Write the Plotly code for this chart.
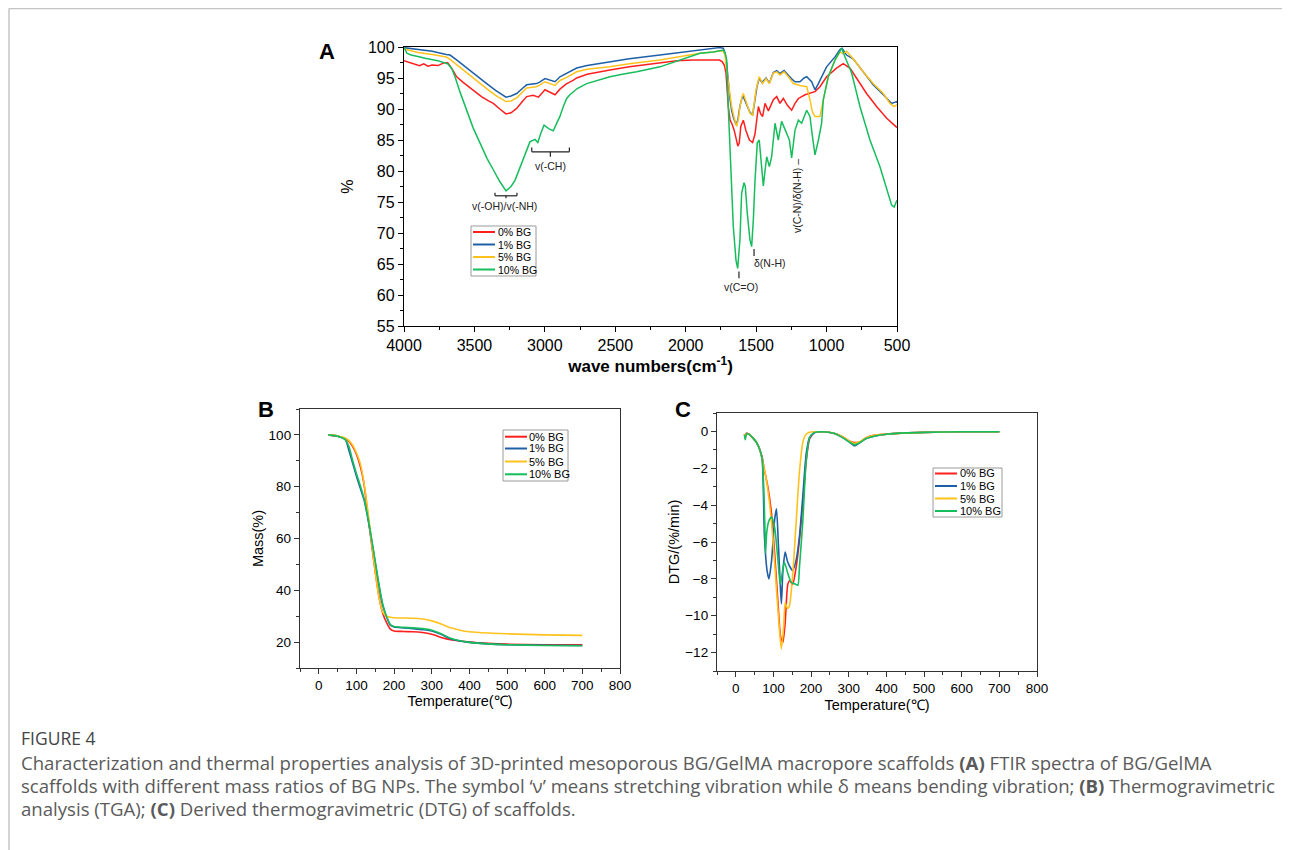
import plotly.graph_objects as go

# --------------------------------------------------------------------------------------
# data

names = ["0% BG", "1% BG", "5% BG", "10% BG"]
colors = ["#ff1f1f", "#1f5fa6", "#ffc21c", "#16bd5c"]

# (A) FTIR spectra: wave number (cm-1) / transmittance (%)
ftir_wn_0 = [4000, 3960, 3920, 3890, 3860, 3830, 3800, 3760, 3720, 3690, 3660, 3626, 3580,
             3540, 3508, 3450, 3400, 3366, 3320, 3276, 3240, 3200, 3160, 3129, 3083, 3046,
             2999, 2960, 2928, 2893, 2850, 2800, 2774, 2700, 2600, 2538, 2400, 2301, 2200,
             2064, 1950, 1875, 1800, 1760, 1740, 1725, 1714, 1698, 1685, 1670, 1655, 1643,
             1630, 1620, 1609, 1591, 1572, 1548, 1525, 1508, 1484, 1468, 1454, 1437, 1413,
             1378, 1354, 1331, 1307, 1278, 1248, 1224, 1200, 1153, 1118, 1082, 1047, 1000,
             929, 882, 834, 787, 716, 645, 573, 500]
ftir_pct_0 = [97.8, 97.5, 97.2, 97.0, 97.3, 96.9, 97.1, 97.0, 97.4, 97.5, 96.5, 95.2, 94.3,
              93.6, 93.1, 92.0, 91.3, 90.9, 90.0, 89.2, 89.4, 90.1, 91.2, 92.0, 92.2, 91.9,
              93.1, 92.6, 92.3, 93.2, 94.0, 94.6, 95.0, 95.6, 96.1, 96.3, 96.8, 97.1, 97.5,
              97.8, 97.9, 97.9, 97.8, 97.9, 97.6, 97.0, 95.8, 90.4, 88.2, 87.5, 86.5, 85.0,
              84.0, 84.5, 87.2, 88.2, 86.5, 85.0, 84.6, 86.0, 90.4, 89.2, 88.8, 90.9, 89.7,
              91.5, 92.0, 90.9, 91.7, 90.6, 89.8, 90.9, 91.7, 92.3, 92.5, 92.8, 93.6, 95.2,
              96.6, 97.3, 96.6, 94.9, 92.5, 90.4, 88.5, 87.0]

ftir_wn_1 = [4000, 3900, 3800, 3700, 3673, 3620, 3555, 3480, 3413, 3350, 3276, 3240, 3200,
             3160, 3129, 3060, 3040, 2999, 2960, 2928, 2893, 2845, 2774, 2700, 2538, 2400,
             2183, 2000, 1899, 1800, 1760, 1733, 1720, 1710, 1698, 1685, 1674, 1660, 1643,
             1630, 1615, 1600, 1591, 1570, 1545, 1525, 1510, 1495, 1478, 1460, 1445, 1430,
             1406, 1390, 1378, 1354, 1331, 1302, 1271, 1250, 1224, 1189, 1160, 1141, 1106,
             1082, 1060, 1047, 1000, 940, 905, 890, 858, 811, 740, 669, 597, 538, 502, 500]
ftir_pct_1 = [99.9, 99.6, 99.3, 98.8, 98.7, 97.8, 96.6, 95.3, 94.1, 93.0, 91.9, 92.1, 92.5,
              93.3, 93.9, 94.1, 94.3, 94.9, 94.6, 94.4, 95.2, 95.8, 96.6, 97.0, 97.6, 98.1,
              98.7, 99.2, 99.5, 99.7, 99.9, 99.8, 99.0, 97.5, 94.1, 91.5, 89.8, 88.5, 87.5,
              88.2, 90.5, 91.8, 92.0, 90.8, 89.5, 89.0, 91.0, 93.5, 95.0, 94.3, 94.6, 95.0,
              94.2, 95.3, 95.9, 96.2, 95.7, 96.2, 95.4, 94.9, 94.4, 94.4, 95.0, 95.2, 94.4,
              93.1, 94.0, 94.6, 96.8, 98.4, 99.6, 99.8, 98.7, 98.1, 96.0, 93.9, 92.3, 90.9,
              91.2, 91.0]

ftir_wn_5 = [4000, 3900, 3800, 3700, 3673, 3620, 3555, 3480, 3413, 3350, 3276, 3240, 3200,
             3160, 3129, 3060, 3040, 2999, 2960, 2928, 2893, 2845, 2774, 2700, 2538, 2400,
             2183, 2000, 1899, 1800, 1760, 1733, 1720, 1714, 1698, 1685, 1674, 1655, 1638,
             1625, 1615, 1600, 1591, 1567, 1544, 1525, 1501, 1478, 1454, 1430, 1406, 1378,
             1354, 1331, 1302, 1271, 1236, 1189, 1141, 1118, 1100, 1082, 1047, 1023, 988,
             940, 905, 882, 858, 811, 740, 669, 597, 550, 520, 500]
ftir_pct_5 = [99.7, 99.1, 98.8, 98.4, 98.0, 97.0, 95.8, 94.5, 93.3, 92.2, 91.2, 91.3, 91.8,
              92.8, 93.4, 93.6, 93.8, 94.4, 94.0, 93.8, 94.6, 95.1, 96.0, 96.4, 96.8, 97.3,
              97.9, 98.6, 99.0, 99.2, 99.4, 99.3, 98.6, 97.1, 94.1, 92.0, 90.4, 88.5, 87.2,
              88.5, 90.4, 92.0, 92.5, 90.9, 89.3, 89.0, 93.1, 95.2, 94.1, 94.9, 94.1, 95.8,
              96.0, 95.5, 96.0, 95.2, 94.1, 93.8, 93.6, 91.5, 89.5, 88.8, 88.8, 91.5, 95.2,
              97.9, 99.2, 98.9, 99.3, 98.1, 96.0, 94.1, 92.5, 90.9, 90.4, 90.7]

ftir_wn_10 = [4000, 3980, 3950, 3920, 3886, 3850, 3800, 3760, 3720, 3690, 3660, 3638, 3600,
              3555, 3510, 3460, 3410, 3366, 3320, 3276, 3240, 3212, 3170, 3141, 3106, 3070,
              3050, 3030, 3006, 2970, 2940, 2910, 2893, 2869, 2845, 2822, 2770, 2703, 2600,
              2538, 2450, 2348, 2183, 2041, 1899, 1804, 1760, 1733, 1720, 1709, 1698, 1686,
              1674, 1662, 1643, 1631, 1615, 1603, 1586, 1577, 1563, 1544, 1532, 1520, 1508,
              1492, 1478, 1468, 1449, 1437, 1425, 1406, 1390, 1366, 1343, 1319, 1288, 1264,
              1248, 1224, 1200, 1177, 1141, 1118, 1100, 1082, 1058, 1035, 1023, 988, 940,
              905, 893, 869, 822, 763, 692, 621, 573, 538, 520, 500]
ftir_pct_10 = [100.0, 99.0, 98.7, 98.6, 98.4, 98.2, 98.0, 97.8, 97.5, 97.3, 96.5, 95.2, 92.6,
               89.8, 87.0, 84.5, 82.0, 80.2, 78.3, 76.8, 77.5, 78.5, 81.0, 82.9, 84.7, 85.1,
               84.6, 86.0, 87.4, 86.8, 86.5, 88.0, 88.8, 90.4, 91.7, 92.3, 93.3, 94.1, 94.8,
               95.2, 95.6, 96.0, 96.8, 97.9, 99.0, 99.2, 99.4, 99.5, 99.0, 97.9, 90.4, 83.9,
               78.5, 71.0, 65.6, 64.3, 68.9, 76.4, 78.1, 77.5, 73.2, 68.9, 67.8, 72.1, 78.5,
               84.5, 85.0, 82.0, 77.6, 80.0, 82.3, 80.7, 82.3, 87.7, 85.0, 88.0, 86.3, 85.0,
               82.1, 86.6, 88.2, 87.7, 89.8, 88.8, 85.5, 82.6, 85.0, 87.7, 91.5, 95.2, 97.9,
               99.5, 99.8, 98.4, 95.8, 90.4, 85.0, 80.7, 76.9, 74.5, 74.2, 75.3]

# (B) TGA: temperature (C) / mass (%)
tga_temp = [25, 50, 70, 80, 90, 100, 110, 120, 130, 140, 150, 160, 170, 180, 190, 200, 225,
            250, 275, 300, 325, 350, 375, 400, 450, 500, 600, 700]
tga_mass_0 = [100, 99.5, 98.6, 97.5, 95.5, 92.5, 88.0, 81.0, 69.5, 58.0, 47.0, 37.5, 31.0,
              27.5, 25.0, 24.3, 24.1, 24.0, 23.7, 23.0, 21.8, 20.9, 20.4, 20.0, 19.5, 19.2,
              19.0, 19.0]
tga_mass_1 = [100, 99.5, 98.3, 94.0, 89.0, 84.0, 79.5, 75.0, 68.0, 59.5, 50.5, 41.5, 34.0,
              29.8, 26.5, 25.8, 25.5, 25.2, 24.8, 24.3, 23.0, 21.3, 20.4, 19.9, 19.3, 19.0,
              18.8, 18.7]
tga_mass_5 = [100, 99.6, 98.8, 97.8, 96.0, 93.0, 89.0, 81.5, 71.0, 59.0, 47.0, 37.0, 31.5,
              30.0, 29.6, 29.4, 29.3, 29.2, 28.9, 28.2, 27.0, 25.5, 24.6, 24.0, 23.5, 23.2,
              22.8, 22.6]
tga_mass_10 = [100, 99.5, 98.2, 95.5, 90.0, 85.0, 80.5, 75.5, 68.5, 60.0, 51.0, 42.0, 34.5,
               29.8, 26.8, 26.0, 25.7, 25.5, 25.2, 24.6, 23.2, 21.5, 20.5, 19.9, 19.3, 19.0,
               18.7, 18.6]

# (C) DTG: temperature (C) / rate (%/min)
dtg_temp_0 = [23, 25, 28, 35, 45, 55, 63, 70, 76, 85, 94, 103, 112, 119, 125, 131, 138, 143,
              151, 160, 169, 178, 187, 196, 209, 230, 260, 285, 300, 315, 330, 345, 370, 400,
              450, 500, 600, 700]
dtg_rate_0 = [-0.15, -0.35, -0.1, -0.15, -0.35, -0.6, -0.95, -1.4, -2.1, -3.0, -4.3, -6.6,
              -9.3, -11.15, -11.45, -10.4, -8.3, -8.1, -8.3, -7.4, -5.9, -3.9, -1.6, -0.4,
              -0.05, -0.02, -0.1, -0.3, -0.5, -0.6, -0.58, -0.35, -0.2, -0.15, -0.08, -0.05,
              -0.02, -0.02]
dtg_temp_1 = [23, 25, 28, 35, 45, 55, 63, 70, 76, 83, 88, 95, 103, 108, 113, 118, 121, 125,
              131, 138, 151, 160, 169, 178, 187, 196, 209, 230, 260, 285, 300, 315, 330, 345,
              370, 400, 450, 500, 600, 700]
dtg_rate_1 = [-0.15, -0.3, -0.1, -0.15, -0.35, -0.6, -0.95, -1.5, -5.7, -7.55, -8.0, -7.0,
              -4.8, -4.2, -6.1, -8.3, -9.35, -7.6, -6.55, -7.1, -7.55, -7.0, -5.7, -3.5, -1.2,
              -0.33, -0.07, -0.02, -0.1, -0.35, -0.55, -0.78, -0.6, -0.4, -0.25, -0.15, -0.08,
              -0.05, -0.02, -0.02]
dtg_temp_5 = [23, 25, 28, 35, 45, 55, 63, 70, 80, 89, 98, 107, 116, 121, 127, 131, 137, 142,
              151, 160, 169, 178, 185, 195, 210, 230, 260, 285, 300, 315, 330, 345, 370, 400,
              450, 500, 600, 700]
dtg_rate_5 = [-0.15, -0.3, -0.1, -0.15, -0.35, -0.6, -0.95, -1.5, -2.5, -3.8, -5.7, -8.3,
              -10.8, -11.8, -10.6, -9.3, -9.6, -9.5, -7.8, -5.0, -2.2, -0.6, -0.2, -0.05,
              -0.02, -0.02, -0.1, -0.3, -0.5, -0.65, -0.55, -0.35, -0.2, -0.15, -0.08, -0.05,
              -0.02, -0.02]
dtg_temp_10 = [23, 25, 28, 35, 45, 55, 63, 70, 74, 77, 79, 82, 88, 95, 103, 112, 118, 124,
               129, 138, 147, 160, 165, 169, 178, 187, 196, 209, 230, 260, 285, 300, 315, 330,
               345, 370, 400, 450, 500, 600, 700]
dtg_rate_10 = [-0.2, -0.45, -0.15, -0.15, -0.35, -0.6, -0.95, -1.5, -3.0, -5.0, -6.6, -5.5,
               -4.85, -4.65, -5.2, -7.0, -8.3, -7.6, -7.1, -7.7, -8.18, -8.3, -8.35, -7.37,
               -4.84, -1.59, -0.33, -0.05, -0.02, -0.1, -0.35, -0.55, -0.72, -0.6, -0.4,
               -0.25, -0.15, -0.08, -0.05, -0.02, -0.02]

# peak labels in panel A: (text, wave number, %)
ftir_labels = [
    ("v(-OH)/v(-NH)", 3283, 74.4),
    ("v(-CH)", 2961, 80.8),
    ("v(C=O)", 1610, 61.3),
    ("δ(N-H)", 1404, 65.1),
]

caption_title = "FIGURE 4"
caption_lines = [
    "Characterization and thermal properties analysis of 3D-printed mesoporous BG/GelMA "
    "macropore scaffolds <b>(A)</b> FTIR spectra of BG/GelMA",
    "scaffolds with different mass ratios of BG NPs. The symbol ‘ν’ means stretching "
    "vibration while δ means bending vibration; <b>(B)</b> Thermogravimetric",
    "analysis (TGA); <b>(C)</b> Derived thermogravimetric (DTG) of scaffolds.",
]

# --------------------------------------------------------------------------------------

W, H = 1290, 850
OFF = 8  # the page body puts the figure 8px in from the top left corner


def px(x):
    return (x - OFF) / W


def py(y):
    return 1 - (y - OFF) / H


FONT = "Liberation Sans, Arial, sans-serif"

fig = go.Figure()

ftir = [(ftir_wn_0, ftir_pct_0), (ftir_wn_1, ftir_pct_1),
        (ftir_wn_5, ftir_pct_5), (ftir_wn_10, ftir_pct_10)]
tga = [tga_mass_0, tga_mass_1, tga_mass_5, tga_mass_10]
dtg = [(dtg_temp_0, dtg_rate_0), (dtg_temp_1, dtg_rate_1),
       (dtg_temp_5, dtg_rate_5), (dtg_temp_10, dtg_rate_10)]

for i, name in enumerate(names):
    fig.add_trace(go.Scatter(x=ftir[i][0], y=ftir[i][1], name=name, mode="lines",
                             line=dict(color=colors[i], width=1.5),
                             xaxis="x", yaxis="y", showlegend=False))
for i, name in enumerate(names):
    fig.add_trace(go.Scatter(x=tga_temp, y=tga[i], name=name, mode="lines",
                             line=dict(color=colors[i], width=1.6, shape="spline", smoothing=0.6),
                             xaxis="x2", yaxis="y2", showlegend=False))
for i, name in enumerate(names):
    fig.add_trace(go.Scatter(x=dtg[i][0], y=dtg[i][1], name=name, mode="lines",
                             line=dict(color=colors[i], width=1.6, shape="spline", smoothing=0.6),
                             xaxis="x3", yaxis="y3", showlegend=False))


def axis(domain, rng, dtick, minor, size, anchor, lc="black", **kw):
    return dict(domain=domain, range=rng, dtick=dtick, anchor=anchor, automargin=False,
                showline=True, linecolor=lc, linewidth=1.3, mirror=True,
                ticks="outside", ticklen=5, tickwidth=1, tickcolor=lc,
                minor=dict(ticks="outside", ticklen=3, tickwidth=1, tickcolor=lc, dtick=minor),
                showgrid=False, zeroline=False,
                tickfont=dict(family=FONT, size=size, color="black"), **kw)


fig.update_layout(
    width=W, height=H, margin=dict(l=0, r=0, t=0, b=0, pad=0), autosize=False,
    paper_bgcolor="white", plot_bgcolor="white",
    font=dict(family=FONT, color="black"),
    xaxis=axis([px(404), px(897)], [4000, 500], 500, 250, 16, "y",
               title=dict(text="wave numbers(cm<sup>-1</sup>)", standoff=4,
                          font=dict(family=FONT, size=17, color="black", weight="bold"))),
    yaxis=axis([py(326), py(47)], [55, 100], 5, 2.5, 16, "x",
               title=dict(text="%", standoff=10, font=dict(family=FONT, size=16))),
    xaxis2=axis([px(300), px(620)], [-50, 800], 100, 50, 13.5, "y2", lc="#333",
                title=dict(text="Temperature(℃)", standoff=2, font=dict(family=FONT, size=14.5))),
    yaxis2=axis([py(668), py(409)], [10, 110], 20, 10, 13.5, "x2", lc="#333",
                title=dict(text="Mass(%)", standoff=1, font=dict(family=FONT, size=14.5))),
    xaxis3=axis([px(717), px(1037)], [-50, 800], 100, 50, 13.5, "y3", lc="#333",
                title=dict(text="Temperature(℃)", standoff=4, font=dict(family=FONT, size=14.5))),
    yaxis3=axis([py(671), py(413)], [-13, 1], 2, 1, 13.5, "x3", lc="#333",
                title=dict(text="DTG/(%/min)", standoff=2, font=dict(family=FONT, size=14.5))),
)

shapes = []
ann = []


def note(text, x, y, size, color="black", family=FONT, xanchor="center", **kw):
    ann.append(dict(text=text, x=px(x), y=py(y), xref="paper", yref="paper",
                    xanchor=xanchor, yanchor="middle", showarrow=False,
                    font=dict(family=family, size=size, color=color), **kw))


# page frame
shapes.append(dict(type="line", xref="paper", yref="paper", x0=px(9), x1=1, y0=py(8.5), y1=py(8.5),
                   line=dict(color="#c4c4c4", width=1.5)))
shapes.append(dict(type="line", xref="paper", yref="paper", x0=px(9), x1=px(9), y0=0, y1=py(8.5),
                   line=dict(color="#c4c4c4", width=1.5)))

# panel letters
for letter, x, y in [("A", 327, 52), ("B", 266, 410), ("C", 683, 410)]:
    note(f"<b>{letter}</b>", x, y, 22)

# peak labels in A
for text, wn, val in ftir_labels:
    ann.append(dict(text=text, x=wn, y=val, xref="x", yref="y", showarrow=False,
                    xanchor="center", yanchor="middle",
                    font=dict(family=FONT, size=10.5, color="#222")))
ann.append(dict(text="v(C-N)/δ(N-H) –", x=1208, y=76.0, xref="x", yref="y", showarrow=False,
                xanchor="center", yanchor="middle", textangle=-90,
                font=dict(family=FONT, size=10.5, color="#222")))


def seg(x0, y0, x1, y1):
    shapes.append(dict(type="line", xref="x", yref="y", x0=x0, y0=y0, x1=x1, y1=y1,
                       line=dict(color="#222", width=1.2)))


# brackets / ticks pointing at peaks
seg(3354, 76.0, 3198, 76.0); seg(3354, 76.0, 3354, 76.5); seg(3198, 76.0, 3198, 76.5)
seg(3276, 76.0, 3276, 75.6)
seg(3093, 83.1, 2826, 83.1); seg(3093, 83.1, 3093, 83.8); seg(2826, 83.1, 2826, 83.8)
seg(2961, 83.1, 2961, 82.3)
seg(1622, 63.8, 1622, 62.7)
seg(1515, 67.4, 1515, 66.3)


# legends drawn as small boxes
def legend(box, rows, sw, tx, size):
    x0, y0, x1, y1 = box
    shapes.append(dict(type="rect", xref="paper", yref="paper", x0=px(x0), x1=px(x1),
                       y0=py(y1), y1=py(y0), line=dict(color="#9a9a9a", width=1),
                       fillcolor="white"))
    for i, name in enumerate(names):
        shapes.append(dict(type="line", xref="paper", yref="paper", x0=px(sw[0]), x1=px(sw[1]),
                           y0=py(rows[i]), y1=py(rows[i]), line=dict(color=colors[i], width=2)))
        note(name, tx, rows[i], size, xanchor="left")


legend((471, 226, 536, 276), [232, 244.5, 257, 269.5], (473, 495), 496, 10.5)
legend((503, 430, 568, 481), [436.7, 448.5, 461.5, 474.3], (505, 527), 527, 11)
legend((933, 468, 1002, 517), [473.5, 486, 498.5, 511], (935, 957), 958, 11)

# caption
CAP = "Open Sans, DejaVu Sans, sans-serif"
note(caption_title, 19, 738, 17.5, color="#444", family=CAP, xanchor="left")
for i, line in enumerate(caption_lines):
    note(line, 19, 762 + 23 * i, 18.6, color="#5a5a5a", family=CAP, xanchor="left")

fig.update_layout(shapes=shapes, annotations=ann)

fig.write_html("out.html")
